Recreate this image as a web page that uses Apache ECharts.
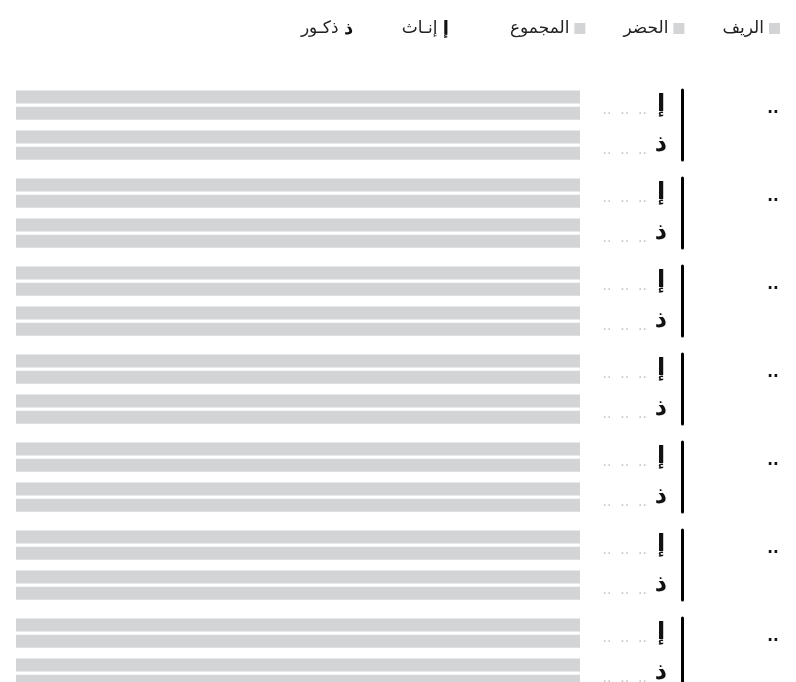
<!DOCTYPE html>
<html>
<head>
<meta charset="utf-8">
<script src="https://cdn.jsdelivr.net/npm/echarts@6/dist/echarts.min.js"></script>
<style>html,body{margin:0;padding:0;background:#fff}#c{width:796px;height:682px}</style>
</head>
<body>
<div id="c"></div>
<script>
// ---- data ----
const groupLabels = ['..', '..', '..', '..', '..', '..', '..'];
const genderCodes = ['إ', 'ذ'];
const genderNames = ['إنـاث', 'ذكـور'];
const seriesNames = ['الريف', 'الحضر', 'المجموع'];
const valuePlaceholder = '..  ..  ..';
// bar lengths per group: [female, male] (full-length placeholder bars, % of axis)
const ruralValues = [[100, 100], [100, 100], [100, 100], [100, 100], [100, 100], [100, 100], [100, 100]];
const urbanValues = [[100, 100], [100, 100], [100, 100], [100, 100], [100, 100], [100, 100], [100, 100]];
const axisMax = 100;

// ---- build ----
const GRAY = '#d3d4d6';
const FONT = 'DejaVu Sans';
const grid = [], xAxis = [], yAxis = [], series = [];
groupLabels.forEach((g, i) => {
  const barTop = 85 + 88 * i;
  const gb = 2 * i, gl = 2 * i + 1;
  // bar grid
  grid.push({ left: 16, right: 216, top: barTop, height: 80, outerBoundsMode: 'none', containLabel: false });
  xAxis.push({ gridIndex: gb, type: 'value', min: 0, max: axisMax, inverse: true, show: false });
  yAxis.push({
    gridIndex: gb, type: 'category', data: genderCodes, inverse: true, position: 'right',
    axisLine: { show: false }, axisTick: { show: false }, splitLine: { show: false },
    axisLabel: {
      margin: 89, align: 'right',
      formatter: v => '{d|' + valuePlaceholder + '}{s| }{b|' + v + '}',
      rich: {
        d: { color: '#c4c4c4', fontSize: 14, fontFamily: FONT, verticalAlign: 'bottom' },
        s: { fontSize: 14, width: 6, verticalAlign: 'bottom' },
        b: { color: '#111', fontSize: 24, fontWeight: 'bold', fontFamily: FONT, verticalAlign: 'bottom', width: 16, align: 'center' }
      }
    }
  });
  // group label axis (on the bar grid, aligned with first sub-row)
  yAxis.push({
    gridIndex: gb, type: 'category', data: [g, ''], inverse: true, position: 'right',
    axisLine: { show: false }, axisTick: { show: false }, splitLine: { show: false },
    axisLabel: {
      margin: 193, align: 'center',
      formatter: v => '{d|' + v + '}{s| }{b| }',
      rich: {
        d: { color: '#111', fontSize: 15, fontWeight: 'bold', fontFamily: FONT, verticalAlign: 'bottom' },
        s: { fontSize: 14, width: 0, verticalAlign: 'bottom' },
        b: { fontSize: 24, width: 0, verticalAlign: 'bottom' }
      }
    }
  });
  // line grid
  grid.push({ left: 600, right: 114, top: 90 + 88 * i, height: 70, outerBoundsMode: 'none', containLabel: false });
  xAxis.push({ gridIndex: gl, type: 'value', min: 0, max: 1, show: false });
  yAxis.push({
    gridIndex: gl, type: 'category', data: genderCodes, position: 'right',
    axisLine: { show: true, onZero: false, lineStyle: { color: '#000', width: 3 } },
    axisTick: { show: false }, axisLabel: { show: false }, splitLine: { show: false }
  });
  const yb = yAxis.length - 3;
  series.push({
    name: seriesNames[0], type: 'bar', xAxisIndex: gb, yAxisIndex: yb,
    barWidth: 13, barGap: '25%', itemStyle: { color: GRAY }, data: ruralValues[i], silent: true
  });
  series.push({
    name: seriesNames[1], type: 'bar', xAxisIndex: gb, yAxisIndex: yb,
    barWidth: 13, barGap: '25%', itemStyle: { color: GRAY }, data: urbanValues[i], silent: true
  });
});
// total series (no values available, shown only in legend)
series.push({ name: seriesNames[2], type: 'bar', xAxisIndex: 1, yAxisIndex: 2, itemStyle: { color: GRAY }, data: [] });

const chart = echarts.init(document.getElementById('c'), null, { renderer: 'canvas' });
chart.setOption({
  animation: false,
  backgroundColor: '#fff',
  textStyle: { fontFamily: FONT },
  title: {
    right: 342, top: 15,
    text: genderNames[1] + ' {b|' + genderCodes[1] + '}         ' + genderNames[0] + ' {b|' + genderCodes[0] + '}',
    textStyle: {
      fontSize: 17, fontWeight: 'normal', color: '#222', fontFamily: FONT,
      rich: { b: { fontSize: 18, fontWeight: 'bold', color: '#111', fontFamily: FONT } }
    }
  },
  legend: {
    data: [seriesNames[2], seriesNames[1], seriesNames[0]],
    right: 11, top: 15, align: 'right', icon: 'rect', itemWidth: 11, itemHeight: 11, itemGap: 38,
    selectedMode: false,
    textStyle: { fontSize: 17, color: '#222', fontFamily: FONT }
  },
  grid, xAxis, yAxis, series
});
</script>
</body>
</html>
